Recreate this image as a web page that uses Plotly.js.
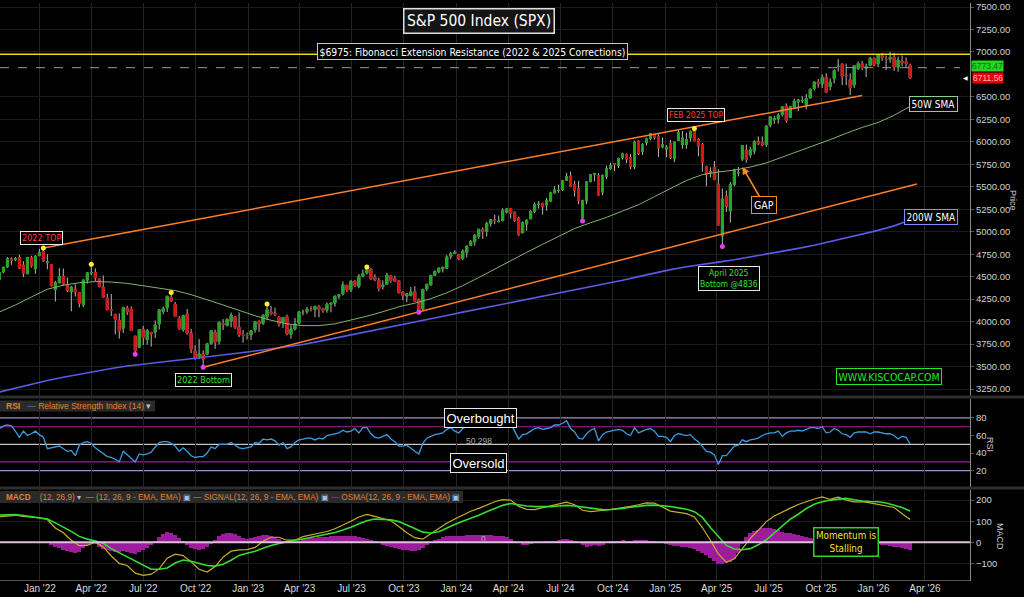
<!DOCTYPE html>
<html><head><meta charset="utf-8">
<script src="https://cdn.plot.ly/plotly-3.0.1.min.js"></script>
<style>html,body{margin:0;padding:0;background:#000;}#chart{width:1024px;height:597px;}</style>
</head><body><div id="chart"></div>
<script>
// ---------- DATA (weekly S&P 500, week ending Fridays from 2021-10-22) ----------
const firstWeek = '2021-10-22';
const openP = [
4471,4553,4610,4697,4689,4712,4628,4532,4710,4587,4733,
4778,4655,4632,4357,4431,4506,4413,4332,4363,4323,4188,4462,4541,4547,4474,4385,4255,4131,4081,4013,3927,4151,4135,3838,3715,3914,3801,3880,3883,3972,4113,4155,4270,4195,4034,3910,4084,3873,3674,3610,3638,3638,3755,3882,3780,3977,3956,4005,4053,3940,3854,3843,
3853,3911,3999,3979,4053,4110,4095,4052,3992,4055,3859,3917,3982,4102,4110,4138,4134,4167,4142,4127,4190,4206,4282,4308,4404,4354,4450,4394,4505,4543,4584,4492,4459,4389,4415,4510,4479,4454,4330,4284,4289,4332,4241,4140,4365,4407,4515,4555,4586,4594,4726,4759,
4745,4703,4772,4848,4888,4950,5026,5004,5093,5131,5111,5123,5219,5258,5218,5150,4988,5085,5143,5225,5305,5316,5297,5341,5432,5459,5471,5572,5616,5526,5477,5152,5344,5557,5637,5624,5442,5615,5703,5757,5737,5829,5855,5826,5725,6008,5893,5993,6040,6083,6059,5942,
5920,5983,5812,6014,5969,5970,6046,6118,6027,5969,5724,5659,5718,5528,4953,5395,5233,5526,5655,5808,5906,5855,5897,6005,5993,5970,6188,6246,6256,6304,6399,6272,6389,6446,6457,6409,6490,6594,6662,6645,6716,6616,6703,6837,6866,6740,6690,6635,6813,6870,6820,6850,
6930,6870,6960,6920,6920,6940,6830,6900,6890,6850];
const highP = [
4559,4608,4718,4714,4718,4744,4672,4713,4732,4740,4808,
4819,4749,4632,4453,4595,4590,4490,4397,4416,4327,4465,4546,4637,4593,4477,4513,4309,4307,4082,4091,4158,4177,4169,3839,3913,3951,3918,3880,4013,4140,4167,4290,4325,4218,4062,4076,4140,3920,3736,3807,3679,3763,3906,3911,4001,4028,4034,4101,4053,4101,3906,3878,
3907,4004,4015,4078,4195,4176,4156,4052,4049,4079,3966,4040,4110,4133,4164,4170,4171,4186,4154,4213,4212,4290,4299,4448,4409,4458,4457,4528,4578,4607,4595,4528,4490,4459,4542,4512,4511,4462,4338,4318,4386,4394,4256,4366,4418,4521,4568,4599,4609,4739,4778,4793,
4754,4803,4843,4907,4975,5030,5048,5111,5140,5190,5180,5262,5265,5264,5222,5168,5114,5139,5240,5325,5342,5316,5375,5447,5506,5524,5570,5655,5670,5567,5566,5357,5564,5643,5651,5652,5636,5734,5767,5765,5823,5879,5870,5863,6012,6018,5985,6045,6099,6085,6085,6050,
5963,6021,6001,6128,6120,6101,6127,6147,6044,5987,5734,5716,5787,5695,5481,5460,5553,5700,5720,5958,5969,5944,6017,6060,6060,6187,6284,6290,6315,6390,6428,6395,6481,6467,6508,6533,6593,6672,6699,6750,6764,6706,6808,6920,6870,6870,6760,6853,6895,6902,6870,6945,
6935,6970,6990,6960,7002,6990,6950,6960,6940,6870];
const lowP = [
4456,4537,4595,4630,4672,4585,4495,4532,4600,4532,4733,
4663,4582,4395,4223,4431,4401,4327,4115,4279,4158,4162,4424,4517,4451,4381,4267,4129,4062,3859,3811,3875,4074,3900,3637,3705,3739,3743,3721,3818,3911,4080,4107,4218,4058,3907,3887,3857,3648,3584,3584,3491,3638,3742,3698,3744,3906,3947,3937,3918,3828,3765,3800,
3794,3877,3886,3962,4016,4071,4060,3944,3928,3847,3809,3901,3969,4069,4086,4114,4049,4048,4098,4099,4103,4166,4253,4290,4328,4328,4385,4371,4491,4524,4462,4450,4335,4356,4415,4430,4442,4317,4238,4216,4283,4223,4104,4128,4342,4405,4508,4537,4546,4594,4695,4751,
4683,4682,4714,4845,4845,4919,4920,4946,5057,5084,5105,5118,5203,5146,5108,4953,4987,5012,5143,5204,5257,5191,5234,5329,5428,5433,5452,5565,5497,5391,5306,5120,5306,5550,5561,5403,5406,5585,5687,5674,5707,5803,5762,5697,5697,5853,5853,5959,6016,6025,5832,5930,
5829,5809,5773,6012,5923,5923,6003,6009,5837,5667,5505,5603,5572,5069,4835,5221,5101,5505,5616,5786,5767,5823,5861,5963,5953,5943,6162,6201,6202,6281,6212,6262,6372,6343,6431,6361,6481,6574,6603,6600,6550,6573,6650,6782,6632,6631,6521,6600,6800,6798,6720,6840,
6840,6830,6900,6800,6880,6790,6780,6840,6830,6700];
const closeP = [
4545,4605,4698,4683,4698,4595,4538,4712,4621,4726,4766,
4677,4663,4398,4432,4501,4419,4349,4385,4329,4204,4463,4543,4546,4488,4393,4272,4132,4123,4024,3901,4158,4109,3901,3675,3912,3825,3899,3863,3962,4130,4145,4280,4228,4058,3924,4067,3873,3693,3586,3640,3583,3753,3901,3771,3993,3965,4026,4072,3934,3852,3845,3840,
3895,3999,3973,4071,4136,4090,4079,3970,4046,3862,3917,3971,4109,4105,4138,4134,4170,4136,4124,4192,4206,4282,4299,4410,4348,4450,4399,4505,4536,4582,4478,4464,4370,4406,4516,4458,4450,4320,4288,4309,4328,4224,4117,4358,4415,4514,4559,4595,4604,4719,4755,4770,
4697,4784,4840,4891,4959,5027,5006,5089,5137,5124,5117,5234,5254,5204,5123,4967,5100,5128,5223,5303,5305,5278,5347,5432,5465,5460,5567,5615,5505,5459,5347,5344,5554,5635,5648,5408,5626,5703,5738,5751,5815,5865,5808,5729,5996,5871,5969,6032,6090,6051,5931,5971,
5942,5827,5997,6101,6041,6026,6115,6013,5955,5770,5639,5668,5581,5074,5363,5283,5525,5687,5660,5958,5803,5912,6000,5977,5968,6173,6279,6260,6297,6389,6238,6390,6450,6467,6460,6482,6584,6664,6644,6716,6553,6664,6792,6840,6729,6734,6603,6849,6870,6827,6835,6930,
6858,6966,6940,6915,6939,6830,6910,6880,6870,6712];
// 50-week and 200-week SMA, read every 4th week
const sma50 = [4107,4185,4274,4360,4405,4432,4445,4440,4425,4400,4372,4345,4300,4245,4185,4125,4065,4015,3975,3955,3955,3975,4015,4060,4110,4165,4205,4255,4320,4400,4490,4585,4680,4770,4860,4950,5035,5100,5160,5230,5300,5390,5480,5570,5635,5665,5685,5720,5765,5830,5890,5960,6025,6095,6160,6215,6295,6395];
const sma200 = [3217,3260,3305,3345,3380,3415,3450,3478,3505,3528,3548,3568,3586,3605,3628,3650,3672,3695,3720,3745,3780,3815,3850,3885,3920,3958,3995,4030,4068,4105,4140,4175,4210,4248,4285,4320,4355,4390,4420,4460,4500,4540,4578,4610,4640,4662,4688,4718,4748,4780,4815,4850,4890,4930,4972,5015,5065,5130];
// RSI(14), weekly
const rsi = [68,71,72,71,65,58,65,60,62,65,61,58,45,46,47,48,45,42,43,37,
49,52,53,51,46,43,39,36,35,33,30,42,38,34,30,39,38,39,41,47,
52,53,53,51,48,42,46,42,37,35,36,36,40,47,45,50,50,50,52,49,
46,45,46,47,52,51,56,55,56,54,49,52,45,47,52,55,56,57,57,55,
57,56,60,61,62,63,66,64,65,68,63,69,69,62,58,57,59,61,56,53,
48,48,49,45,42,39,51,57,59,61,62,63,67,69,65,63,68,70,71,72,
72,73,73,73,74,75,76,78,74,65,56,61,62,65,68,69,67,68,69,72,
72,74,77,68,64,57,56,62,66,68,54,61,64,65,66,67,66,62,60,69,
63,65,67,68,65,59,59,58,53,60,62,61,60,61,56,53,48,42,41,38,
27,37,37,43,48,49,55,53,55,56,57,60,62,63,63,65,59,63,65,65,
66,65,67,69,69,68,70,63,64,68,66,62,61,58,63,64,64,64,62,64,
64,63,62,62,60,56,59,58,50.3];
// MACD and signal, read every 2nd week
const macdLine = [121,126,128,123,119,116,108,68,45,10,-16,-15,2,-22,-65,-100,-110,-146,-157,-151,-126,-75,-56,-63,-93,-128,-141,-115,-70,-42,-36,-35,-24,5,24,24,10,10,27,35,43,51,64,81,100,120,132,123,113,102,75,45,22,15,40,66,90,110,128,147,161,176,192,202,200,170,156,155,164,173,182,190,178,152,145,148,153,159,164,170,178,187,186,167,148,142,136,120,70,10,-55,-95,-78,-30,19,57,98,125,145,162,179,193,205,215,203,214,200,192,192,187,180,175,165,135,108];
const signalLine = [129,131,131,127,122,118,110,92,73,52,28,15,6,-5,-30,-50,-70,-88,-110,-128,-128,-122,-98,-84,-90,-100,-110,-113,-104,-85,-62,-52,-42,-28,-15,-6,3,10,16,24,30,37,46,58,71,88,102,110,110,107,98,80,65,48,44,50,68,84,100,113,128,145,160,175,184,177,172,169,168,169,172,175,172,166,161,157,153,156,160,166,171,175,176,174,170,163,157,145,118,70,28,-15,-32,-35,-30,-12,12,45,80,110,133,160,180,192,200,205,208,202,195,193,192,186,177,165,148];
// OSMA histogram, weekly
const osma = [-4,-4,-4,-4,-4,-4,-4,-4,-4,-4,-4,-4,
-5,-12,-20,-28,-36,-43,-48,-52,-45,-25,-12,-8,-10,
-20,-30,-38,-42,-45,-44,-40,-44,-52,-55,-45,-38,-28,-15,
5,25,40,48,45,35,20,5,-12,-25,-32,-35,-32,-22,-8,
10,28,40,45,44,38,30,22,18,20,25,32,36,36,32,25,15,5,0,-2,2,8,
15,20,22,22,24,25,26,28,30,30,32,32,30,28,25,22,18,12,5,
-5,-12,-18,-22,-28,-32,-36,-38,-40,-40,-38,-28,-15,-3,
10,18,24,28,30,30,30,32,33,34,35,35,35,34,33,32,30,28,25,18,8,
-5,-12,-14,-10,-4,0,3,5,6,8,12,15,16,12,5,
-5,-15,-20,-18,-14,-18,-12,-2,4,6,8,10,8,6,10,12,12,10,8,5,2,
-5,-10,-15,-18,-18,-20,-22,-26,-32,-40,-52,-62,-75,-90,-104,-104,-100,-95,-80,-50,-10,25,
42,52,60,66,68,66,62,56,50,45,42,38,34,30,26,22,18,14,12,10,6,4,2,
0,-2,-3,-2,-2,-4,-6,-8,-8,-10,-12,-14,-16,-20,-24,-28,-32,-36];
// swing pivots (week index)
const pivotHighIdx = [11,23,43,67,92,174];
const pivotLowIdx = [34,51,105,146,181];
// drawn trend lines
const upperTrendDates = ['2022-01-07','2025-12-12'];
const upperTrendVals = [4819,6515];
const lowerTrendDates = ['2022-10-14','2026-03-18'];
const lowerTrendVals = [3491,5531];
const fibLevel = 6975;
const dashedLevel = 6825;
const gapPoint = {date:'2025-05-16', value:5720};
// 6750.00 is hidden behind the price tags in the reference
const priceTicks = [3250,3500,3750,4000,4250,4500,4750,5000,5250,5500,5750,6000,6250,6500,7000,7250,7500];
const rsiTicks = [20,40,60,80];
const macdTicks = [-100,0,100,200];
const rsiLevels = [80,70,50,30,20];

// ---------- BUILD ----------
const dates = [];
const t0 = Date.parse(firstWeek + 'T00:00:00Z');
for (let i = 0; i < closeP.length; i++) dates.push(new Date(t0 + i*7*86400000).toISOString().slice(0,10));
const dates4 = dates.filter((d,i)=>i%4===0);
const dates2 = dates.filter((d,i)=>i%2===0);

const NARROW = "'Liberation Sans Narrow','Arial Narrow','DejaVu Sans Condensed','Liberation Sans',sans-serif";
const SANS = "'Liberation Sans',Arial,sans-serif";
const ORANGE = '#ff7f27';

const traces = [
  {type:'scatter', mode:'lines', x:dates4, y:sma200, line:{color:'#5a5ae6', width:1.6}, hoverinfo:'skip'},
  {type:'scatter', mode:'lines', x:dates4, y:sma50, line:{color:'#7fb56c', width:1}, hoverinfo:'skip'},
  {type:'scatter', mode:'lines', x:upperTrendDates, y:upperTrendVals, line:{color:ORANGE, width:1.5}, hoverinfo:'skip'},
  {type:'scatter', mode:'lines', x:lowerTrendDates, y:lowerTrendVals, line:{color:ORANGE, width:1.5}, hoverinfo:'skip'},
  {type:'candlestick', x:dates, open:openP, high:highP, low:lowP, close:closeP, whiskerwidth:0,
    increasing:{line:{color:'#b8b8b8', width:1}, fillcolor:'#b8b8b8'},
    decreasing:{line:{color:'#b8b8b8', width:1}, fillcolor:'#b8b8b8'}, hoverinfo:'skip'},
  {type:'candlestick', x:dates, open:openP, close:closeP,
    high:openP.map((o,i)=>Math.max(o,closeP[i])), low:openP.map((o,i)=>Math.min(o,closeP[i])), whiskerwidth:0,
    increasing:{line:{color:'#1f9f1f', width:1}, fillcolor:'#22b322'},
    decreasing:{line:{color:'#d01010', width:1}, fillcolor:'#e31515'}, hoverinfo:'skip'},
  {type:'scatter', mode:'markers', x:pivotHighIdx.map(i=>dates[i]), y:pivotHighIdx.map(i=>highP[i]), marker:{color:'#ffee33', size:5}, hoverinfo:'skip'},
  {type:'scatter', mode:'markers', x:pivotLowIdx.map(i=>dates[i]), y:pivotLowIdx.map(i=>lowP[i]), marker:{color:'#e040e8', size:5}, hoverinfo:'skip'},
  {type:'scatter', mode:'lines', x:dates, y:rsi, yaxis:'y2', line:{color:'#3d9be0', width:1.3}, hoverinfo:'skip'},
  {type:'bar', x:dates, y:osma, yaxis:'y3', width:7*86400000, marker:{color:'#9c1c9c', line:{width:0}}, hoverinfo:'skip'},
  {type:'scatter', mode:'lines', x:dates2, y:macdLine, yaxis:'y3', line:{color:'#c6b126', width:1.2}, hoverinfo:'skip'},
  {type:'scatter', mode:'lines', x:dates2, y:signalLine, yaxis:'y3', line:{color:'#35dc35', width:1.6}, hoverinfo:'skip'}
];

const PW = 970, PT = 3, PB = 581, PH = PB - PT;
const X = px => px / PW;
const Y = py => (PB - py) / PH;

function ann(px, py, text, o) {
  return Object.assign({xref:'paper', yref:'paper', x:X(px), y:Y(py), text:text, showarrow:false,
    xanchor:'center', yanchor:'middle', font:{family:NARROW, size:10, color:'#ffffff'}}, o||{});
}
function boxed(px, py, text, color, border, size, extra) {
  return ann(px, py, text, Object.assign({font:{family:NARROW, size:size||10, color:color}, bgcolor:'#000000',
    bordercolor:border, borderwidth:1, borderpad:1.5}, extra||{}));
}

const annotations = [
  boxed(478.5, 21.5, 'S&P 500 Index (SPX)', '#ffffff', '#e0e0e0', 15.5, {bgcolor:'#141414', borderwidth:1.5, borderpad:2.5}),
  boxed(472.5, 51.5, '$6975: Fibonacci Extension Resistance (2022 & 2025 Corrections)', '#ffffff', '#e6e000', 10.3),
  boxed(41, 238, '2022 TOP', '#ff3b3b', '#e8e8e8', 9, {borderpad:1}),
  boxed(203.5, 380, '2022 Bottom', '#2fe02f', '#e8e8e8', 9, {borderpad:1}),
  boxed(695.5, 115, 'FEB 2025 TOP', '#ff3b3b', '#e8e8e8', 8.5, {borderpad:1}),
  boxed(728.5, 278.5, 'April 2025<br>Bottom @4836', '#2fe02f', '#e8e8e8', 8.5, {borderpad:1}),
  {xref:'x', yref:'y', x:gapPoint.date, y:gapPoint.value, ax:22, ay:38, text:'GAP', showarrow:true,
    arrowhead:2, arrowsize:1, arrowwidth:1.5, arrowcolor:'#ff8c1a', font:{family:NARROW, size:10.5, color:'#ffffff'},
    bgcolor:'#000', bordercolor:'#ff8c1a', borderwidth:1, borderpad:2},
  boxed(933, 104.5, '50W SMA', '#ffffff', '#86d486', 10),
  boxed(930.5, 217.5, '200W SMA', '#ffffff', '#7b93ff', 10),
  boxed(888.5, 377, 'WWW.KISCOCAP.COM', '#28e628', '#28e628', 10.5),
  boxed(480, 418, 'Overbought', '#ffffff', '#e8e8e8', 13, {font:{family:SANS, size:13, color:'#ffffff'}}),
  ann(478.5, 440.5, '50.298', {font:{family:SANS, size:8.5, color:'#a8a8a8'}}),
  boxed(478.5, 462.5, 'Oversold', '#ffffff', '#e8e8e8', 13, {font:{family:SANS, size:13, color:'#ffffff'}}),
  ann(483, 538.5, '0', {font:{family:SANS, size:8.5, color:'#b0b0b0'}}),
  boxed(846, 541.5, 'Momentum is<br>Stalling', '#f2e23a', '#2ad42a', 9.8, {borderwidth:1.5}),
  ann(988, 66.5, '6773.47', {font:{family:SANS, size:8.5, color:'#0d6e0d'}, bgcolor:'#22d622', borderpad:0}),
  ann(988, 78, '6711.56', {font:{family:SANS, size:8.5, color:'#ffb8b8'}, bgcolor:'#e50000', borderpad:0}),
  ann(965, 78, '◀', {font:{family:SANS, size:6, color:'#ffffff'}}),
  ann(1013, 200, 'Price', {textangle:90, font:{family:SANS, size:9, color:'#cccccc'}}),
  ann(990, 445, 'RSI', {textangle:90, font:{family:SANS, size:9, color:'#cccccc'}}),
  ann(1000, 537, 'MACD', {textangle:90, font:{family:SANS, size:9, color:'#cccccc'}}),
  ann(4, 406, '<b>RSI</b>   <span style="color:#3d9be0">—</span> Relative Strength Index (14) <span style="color:#bbbbbb">▾</span>',
    {xanchor:'left', font:{family:SANS, size:8.5, color:'#e5802a'}}),
  ann(4, 497, '<b>MACD</b>    (12, 26,9) <span style="color:#bbbbbb">▾</span>  <span style="color:#c6b126">—</span> (12, 26, 9 - EMA, EMA) <span style="color:#9fc3f0">▣</span> <span style="color:#35dc35">—</span> SIGNAL(12, 26, 9 - EMA, EMA) <span style="color:#9fc3f0">▣</span> <span style="color:#b03ab0">—</span> OSMA(12, 26, 9 - EMA, EMA) <span style="color:#9fc3f0">▣</span>',
    {xanchor:'left', font:{family:SANS, size:8.2, color:'#e5802a'}})
];

const shapes = [
  {type:'line', xref:'paper', x0:0, x1:1, yref:'y', y0:fibLevel, y1:fibLevel, line:{color:'#e6e000', width:1.5}},
  {type:'line', xref:'paper', x0:0, x1:960/970, yref:'y', y0:dashedLevel, y1:dashedLevel, line:{color:'#9a9a9a', width:1, dash:'dash'}},
  {type:'rect', xref:'paper', yref:'paper', x0:0, x1:1024/970, y0:Y(398.5), y1:Y(395.5), fillcolor:'#2e2e2e', line:{width:0}},
  {type:'rect', xref:'paper', yref:'paper', x0:0, x1:1024/970, y0:Y(489.5), y1:Y(486.5), fillcolor:'#2e2e2e', line:{width:0}},
  {type:'line', xref:'paper', yref:'paper', x0:0, x1:1, y0:Y(580.5), y1:Y(580.5), line:{color:'#555', width:1}},
  {type:'rect', xref:'paper', yref:'paper', x0:0, x1:X(155), y0:Y(411.5), y1:Y(400.5), fillcolor:'#2a2a2a', line:{width:0}},
  {type:'rect', xref:'paper', yref:'paper', x0:0, x1:X(463), y0:Y(503), y1:Y(491), fillcolor:'#2a2a2a', line:{width:0}},
  {type:'line', xref:'paper', x0:0, x1:1, yref:'y3', y0:0, y1:0, line:{color:'#dcc2dc', width:2}}
];
const rsiColors = {80:'#a98cc8', 70:'#a0209c', 50:'#c4c4c4', 30:'#a0209c', 20:'#a98cc8'};
rsiLevels.forEach(v => shapes.push({type:'line', xref:'paper', x0:0, x1:1, yref:'y2', y0:v, y1:v, layer:'below',
  line:{color:rsiColors[v], width:1.2}}));

const yCommon = {side:'right', anchor:'x', showline:true, linecolor:'#8a8a8a', linewidth:1, ticks:'outside',
  ticklen:3, tickcolor:'#555', zeroline:false, fixedrange:true, tickfont:{family:SANS, size:9.5, color:'#d0d0d0'}};

const layout = {
  width:1024, height:597, paper_bgcolor:'#000', plot_bgcolor:'#000',
  margin:{l:0, r:54, t:PT, b:597-PB, pad:0}, showlegend:false,
  font:{family:SANS, color:'#d0d0d0', size:10},
  barmode:'overlay', bargap:0, hovermode:false,
  xaxis:{type:'date', range:['2021-10-23','2026-06-19'], anchor:'y3', tickformat:"%b '%y", dtick:'M3',
    tick0:'2022-01-01', showgrid:true, gridcolor:'#242424', zeroline:false, showline:false, ticks:'',
    tickfont:{family:SANS, size:10, color:'#d8d8d8'}, rangeslider:{visible:false}, fixedrange:true},
  yaxis:Object.assign({}, yCommon, {domain:[Y(398),1], range:[3149.9,7544.6], tickvals:priceTicks,
    ticktext:priceTicks.map(v=>v.toFixed(2)), showgrid:true, gridcolor:'#1b1b1b'}),
  yaxis2:Object.assign({}, yCommon, {domain:[Y(489),Y(399)], range:[-0.9,101.6], tickvals:rsiTicks, showgrid:false}),
  yaxis3:Object.assign({}, yCommon, {domain:[0,Y(490)], range:[-183.4,247.8], tickvals:macdTicks, showgrid:true, gridcolor:'#1b1b1b'}),
  shapes:shapes, annotations:annotations
};

Plotly.newPlot('chart', traces, layout, {displayModeBar:false, staticPlot:true});
</script>
</body></html>
